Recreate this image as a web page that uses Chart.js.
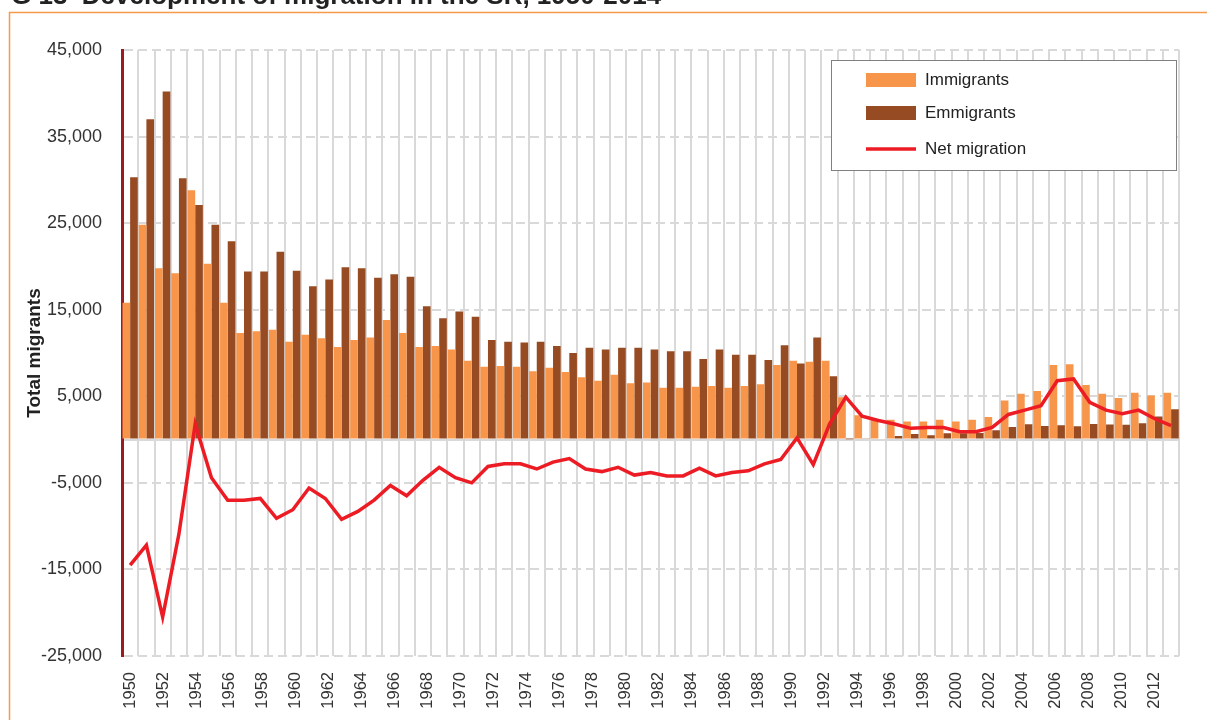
<!DOCTYPE html>
<html>
<head>
<meta charset="utf-8">
<script src="https://cdn.jsdelivr.net/npm/chart.js@4.4.0/dist/chart.umd.min.js"></script>
<style>
  html, body { margin: 0; padding: 0; background: #fff; }
</style>
</head>
<body>
<canvas id="migration" width="1207" height="720"></canvas>
<script>
// years of the bars and line (65), and the years printed under the axis (64)
const years = ['1950','1951','1952','1953','1954','1955','1956','1957','1958','1959',
  '1960','1961','1962','1963','1964','1965','1966','1967','1968','1969',
  '1970','1971','1972','1973','1974','1975','1976','1977','1978','1979',
  '1980','1981','1982','1983','1984','1985','1986','1987','1988','1989',
  '1990','1991','1992','1993','1994','1995','1996','1997','1998','1999',
  '2000','2001','2002','2003','2004','2005','2006','2007','2008','2009',
  '2010','2011','2012','2013','2014'];
const tickYears = years.slice(0, 64);

const immigrants = [15800, 24800, 19800, 19200, 28800, 20300, 15800, 12300, 12500, 12700,
  11300, 12100, 11700, 10700, 11500, 11800, 13800, 12300, 10700, 10800,
  10400, 9100, 8400, 8500, 8400, 7900, 8300, 7800, 7200, 6800,
  7500, 6500, 6600, 6000, 6000, 6100, 6200, 6000, 6200, 6400,
  8600, 9100, 9000, 9100, 4900, 2800, 2300, 2300, 2100, 2100,
  2300, 2100, 2300, 2600, 4500, 5300, 5600, 8600, 8700, 6300,
  5300, 4800, 5400, 5100, 5400];

const emigrants = [30300, 37000, 40200, 30200, 27100, 24800, 22900, 19400, 19400, 21700,
  19500, 17700, 18500, 19900, 19800, 18700, 19100, 18800, 15400, 14000,
  14800, 14200, 11500, 11300, 11200, 11300, 10800, 10000, 10600, 10400,
  10600, 10600, 10400, 10200, 10200, 9300, 10400, 9800, 9800, 9200,
  10900, 8800, 11800, 7300, 50, 150, 120, 400, 650, 500,
  730, 730, 770, 1070, 1450, 1770, 1570, 1650, 1540, 1800,
  1730, 1700, 1880, 2660, 3500];

const netMigration = [-14500, -12200, -20500, -10900, 1800, -4400, -7000, -7000, -6800, -9100,
  -8100, -5600, -6800, -9200, -8300, -7000, -5300, -6500, -4700, -3200,
  -4400, -5000, -3100, -2800, -2800, -3400, -2600, -2200, -3400, -3700,
  -3200, -4100, -3800, -4200, -4200, -3300, -4200, -3800, -3600, -2800,
  -2300, 200, -2900, 1800, 4900, 2700, 2200, 1800, 1300, 1400,
  1400, 900, 900, 1400, 2900, 3400, 3900, 6800, 7000, 4300,
  3400, 3000, 3400, 2400, 1600];

const yTicks = [-25000, -15000, -5000, 0, 5000, 15000, 25000, 35000, 45000];
const titleText = 'G 13  Development of migration in the SR, 1950-2014';

const font = "'Liberation Sans', Arial, sans-serif";

// white page, orange frame and the (cut off) heading
const framePlugin = {
	id: 'frame',
	beforeDraw: (chart) => {
		const ctx = chart.ctx;
		ctx.save();
		ctx.fillStyle = '#fff';
		ctx.fillRect(0, 0, chart.width, chart.height);
		ctx.strokeStyle = '#f79b4a';
		ctx.lineWidth = 1.5;
		ctx.strokeRect(9.5, 12.5, chart.width + 20, chart.height + 20);
		ctx.fillStyle = '#222';
		ctx.font = 'bold 26px ' + font;
		ctx.textBaseline = 'alphabetic';
		ctx.fillText(titleText, 11, 4);
		ctx.restore();
	}
};

// boxed legend in the upper right corner
const legendPlugin = {
	id: 'boxLegend',
	afterDraw: (chart) => {
		const ctx = chart.ctx;
		const bx = 831, by = 60, bw = 345, bh = 110;
		const rows = [80, 113, 149];
		ctx.save();
		ctx.fillStyle = '#fff';
		ctx.fillRect(bx, by, bw, bh);
		ctx.strokeStyle = '#808080';
		ctx.lineWidth = 1;
		ctx.strokeRect(bx + 0.5, by + 0.5, bw, bh);
		ctx.font = '17px ' + font;
		ctx.textBaseline = 'middle';
		chart.data.datasets.forEach((ds, i) => {
			const y = rows[i];
			if (ds.type === 'line') {
				ctx.strokeStyle = ds.borderColor;
				ctx.lineWidth = 3.5;
				ctx.beginPath();
				ctx.moveTo(866, y);
				ctx.lineTo(916, y);
				ctx.stroke();
			} else {
				ctx.fillStyle = ds.backgroundColor;
				ctx.fillRect(866, y - 7, 50, 14);
			}
			ctx.fillStyle = '#222';
			ctx.fillText(ds.label, 925, y);
		});
		ctx.restore();
	}
};

const ctx = document.getElementById('migration').getContext('2d');
const chart = new Chart(ctx, {
	data: {
		labels: years,
		datasets: [{
			type: 'bar',
			label: 'Immigrants',
			data: immigrants,
			backgroundColor: '#f7964a',
			categoryPercentage: 0.94,
			barPercentage: 1.0,
			order: 2
		}, {
			type: 'bar',
			label: 'Emmigrants',
			data: emigrants,
			backgroundColor: '#974b22',
			categoryPercentage: 0.94,
			barPercentage: 1.0,
			order: 2
		}, {
			type: 'line',
			label: 'Net migration',
			data: netMigration,
			borderColor: '#ed1c24',
			borderWidth: 3.5,
			pointRadius: 0,
			tension: 0,
			order: 0
		}]
	},
	options: {
		responsive: false,
		animation: false,
		devicePixelRatio: 1,
		layout: { padding: { top: 50, right: 12, bottom: 0, left: 0 } },
		plugins: {
			legend: { display: false },
			tooltip: { enabled: false }
		},
		scales: {
			x: {
				type: 'category',
				offset: true,
				grid: { color: '#d9d9d9', lineWidth: 2, drawTicks: false, offset: true },
				ticks: { display: false },
				border: { display: false },
				afterFit: (s) => { s.height = 0; }
			},
			xLabels: {
				type: 'category',
				labels: tickYears,
				position: 'bottom',
				offset: true,
				grid: { display: false, drawTicks: false },
				border: { display: false },
				ticks: {
					autoSkip: false,
					maxRotation: 90,
					minRotation: 90,
					padding: 16,
					color: '#333',
					font: { family: font, size: 16.5 },
					callback: function(v, i) { return i % 2 === 0 ? this.getLabelForValue(v) : ''; }
				},
				afterFit: (s) => { s.height = 64; }
			},
			y: {
				min: -25000,
				max: 45000,
				afterBuildTicks: (s) => { s.ticks = yTicks.map(v => ({ value: v })); },
				grid: { color: '#d9d9d9', lineWidth: 2, drawTicks: false },
				border: {
					display: true,
					color: '#9b1b20',
					width: 3,
					dash: (c) => (c.tick && c.tick.value === 0) ? [] : [9, 5]
				},
				ticks: {
					padding: 20,
					color: '#333',
					font: { family: font, size: 18 },
					callback: (v) => v === 0 ? '' : v.toLocaleString('en-US')
				},
				title: {
					display: true,
					text: 'Total migrants',
					color: '#222',
					font: { family: font, size: 19, weight: 'bold' },
					padding: { top: 23, bottom: 0 }
				},
				afterFit: (s) => { s.width = 122; }
			}
		}
	},
	plugins: [framePlugin, legendPlugin]
});
</script>
</body>
</html>
